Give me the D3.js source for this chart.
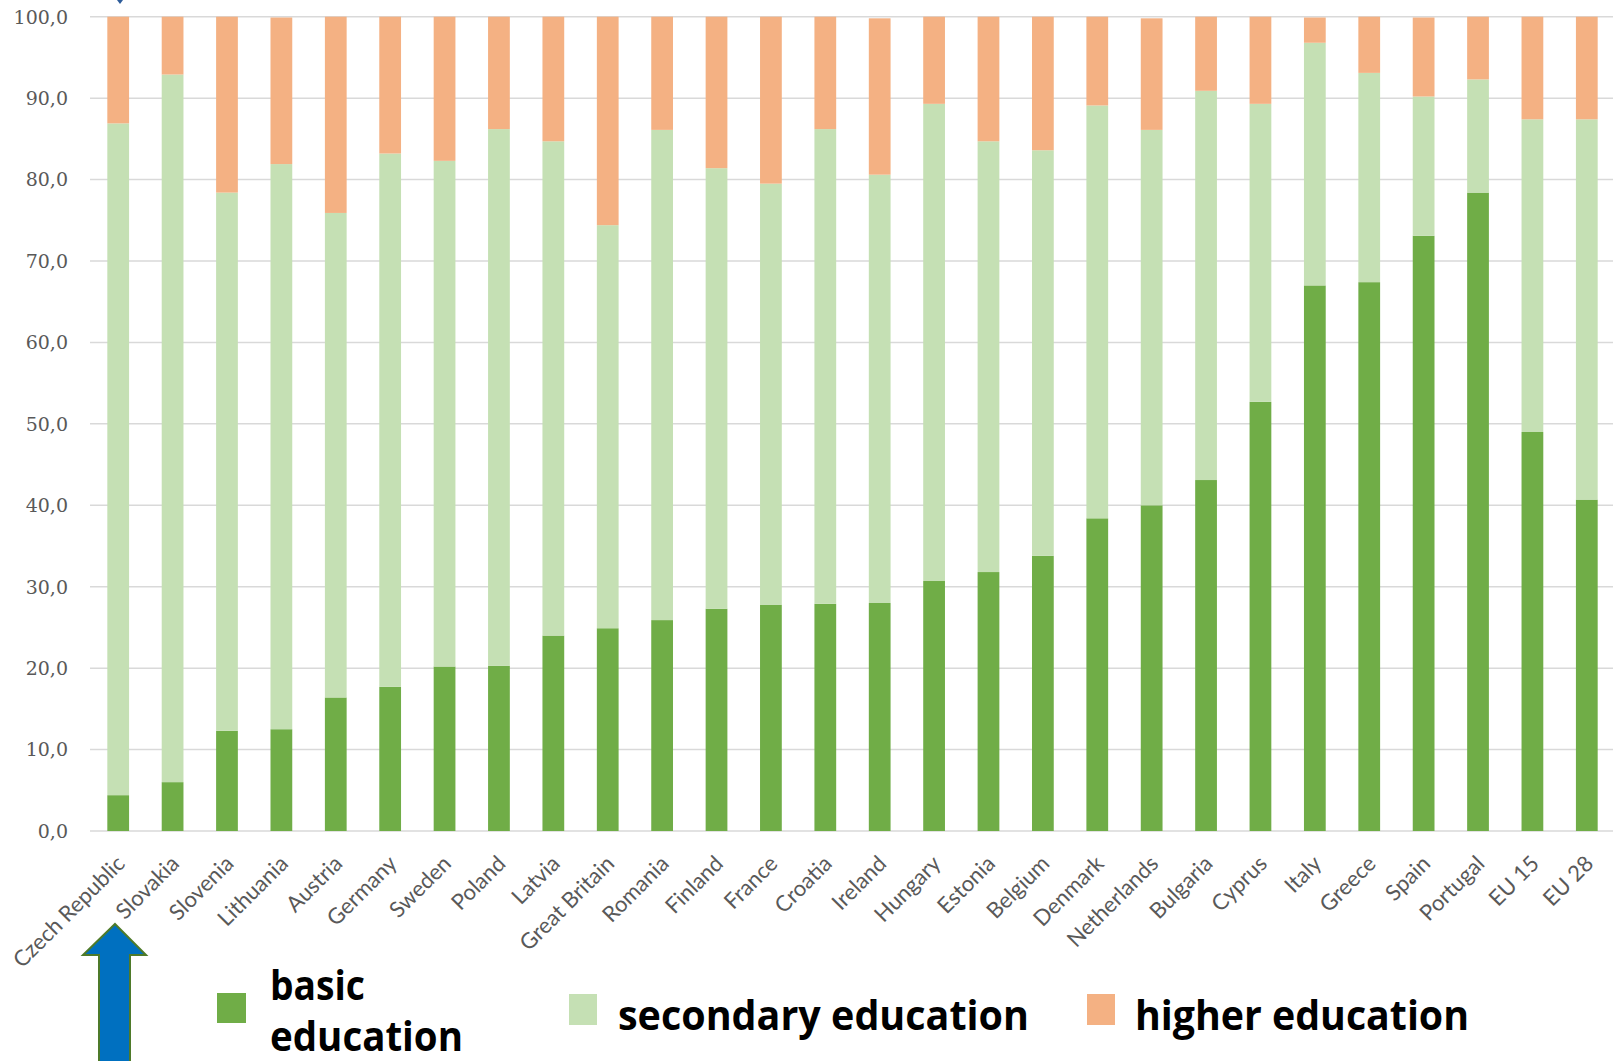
<!DOCTYPE html>
<html>
<head>
<meta charset="utf-8">
<script src="https://cdn.jsdelivr.net/npm/d3@7"></script>
<style>
  html, body { margin: 0; padding: 0; background: #fff; }
  svg { display: block; }
</style>
</head>
<body>
<svg id="chart" width="1613" height="1061"></svg>
<script>
// Share of the adult population by highest level of education (%)
const countries = ["Czech Republic","Slovakia","Slovenia","Lithuania","Austria","Germany","Sweden","Poland","Latvia","Great Britain","Romania","Finland","France","Croatia","Ireland","Hungary","Estonia","Belgium","Denmark","Netherlands","Bulgaria","Cyprus","Italy","Greece","Spain","Portugal","EU 15","EU 28"];
const basicEdu     = [4.4, 6.0, 12.3, 12.5, 16.4, 17.7, 20.2, 20.3, 24.0, 24.9, 25.9, 27.3, 27.8, 27.9, 28.0, 30.7, 31.8, 33.8, 38.4, 40.0, 43.1, 52.7, 67.0, 67.4, 73.1, 78.4, 49.0, 40.7];
const secondaryEdu = [82.5, 86.9, 66.1, 69.4, 59.5, 65.5, 62.1, 65.9, 60.7, 49.5, 60.2, 54.1, 51.7, 58.3, 52.6, 58.6, 52.9, 49.8, 50.7, 46.1, 47.8, 36.6, 29.8, 25.7, 17.1, 13.9, 38.4, 46.7];
const higherEdu    = [13.1, 7.1, 21.6, 18.0, 24.1, 16.8, 17.7, 13.8, 15.3, 25.6, 13.9, 18.6, 20.5, 13.8, 19.2, 10.7, 15.3, 16.4, 10.9, 13.7, 9.1, 10.7, 3.1, 6.9, 9.7, 7.7, 12.6, 12.6];
const seriesKeys   = ["basic", "secondary", "higher"];
const seriesLabels = ["basic education", "secondary education", "higher education"];
const yTicks       = [0, 10, 20, 30, 40, 50, 60, 70, 80, 90, 100];

const colors = { basic: "#70AD47", secondary: "#C5E0B4", higher: "#F4B183" };

const rows = countries.map((c, i) => ({
  country: c,
  basic: basicEdu[i],
  secondary: secondaryEdu[i],
  higher: higherEdu[i]
}));

const svg = d3.select("#chart");

const x = d3.scaleBand()
  .domain(countries)
  .range([91, 1614])
  .paddingInner(0.6)
  .paddingOuter(0.3);

const y = d3.scaleLinear().domain([0, 100]).range([831, 16.7]);

// horizontal gridlines
svg.append("g")
  .selectAll("line")
  .data(yTicks)
  .join("line")
  .attr("x1", 90).attr("x2", 1613)
  .attr("y1", d => y(d)).attr("y2", d => y(d))
  .attr("stroke", "#D9D9D9")
  .attr("stroke-width", 1.5);

// y tick labels, decimal comma
const fmt = d => d3.format(".1f")(d).replace(".", ",");
svg.append("g")
  .selectAll("text")
  .data(yTicks)
  .join("text")
  .attr("x", 68)
  .attr("y", d => y(d))
  .attr("dy", "0.36em")
  .attr("text-anchor", "end")
  .attr("font-family", "'DejaVu Serif', serif")
  .attr("font-size", 19)
  .attr("fill", "#595959")
  .text(fmt);

// stacked bars
const stack = d3.stack().keys(seriesKeys);
const layers = stack(rows);

svg.append("g")
  .selectAll("g")
  .data(layers)
  .join("g")
  .attr("fill", d => colors[d.key])
  .selectAll("rect")
  .data(d => d)
  .join("rect")
  .attr("x", d => x(d.data.country))
  .attr("width", x.bandwidth())
  .attr("y", d => y(d[1]))
  .attr("height", d => y(d[0]) - y(d[1]));

// category labels, rotated
svg.append("g")
  .selectAll("text")
  .data(countries)
  .join("text")
  .attr("transform", d => `translate(${x(d) + x.bandwidth() / 2 + 8},${865}) rotate(-45)`)
  .attr("text-anchor", "end")
  .attr("font-family", "Lato, 'Open Sans', sans-serif")
  .attr("font-size", 22)
  .attr("fill", "#595959")
  .text(d => d);

// big arrow pointing at the first category
const arrow = [[115, 924], [146, 955], [130, 955], [130, 1070], [99, 1070], [99, 955], [83, 955]];
svg.append("path")
  .attr("d", d3.line()(arrow) + "Z")
  .attr("fill", "#0070C0")
  .attr("stroke", "#4E7A2A")
  .attr("stroke-width", 2);

// small arrow tip at the top edge
svg.append("path")
  .attr("d", d3.line()([[117, 0], [123, 0], [120, 4]]) + "Z")
  .attr("fill", "#2E5C9A");

// legend
const legend = svg.append("g").attr("font-family", "'Open Sans', sans-serif").attr("font-weight", 700).attr("fill", "#000");

legend.append("rect").attr("x", 217).attr("y", 993).attr("width", 29).attr("height", 30).attr("fill", colors.basic);
legend.append("text").attr("x", 270).attr("y", 1000).attr("font-size", 42)
  .attr("textLength", 95).attr("lengthAdjust", "spacingAndGlyphs").text("basic");
legend.append("text").attr("x", 270).attr("y", 1051).attr("font-size", 42)
  .attr("textLength", 193).attr("lengthAdjust", "spacingAndGlyphs").text("education");

legend.append("rect").attr("x", 569).attr("y", 994).attr("width", 28).attr("height", 31).attr("fill", colors.secondary);
legend.append("text").attr("x", 618).attr("y", 1030).attr("font-size", 42)
  .attr("textLength", 411).attr("lengthAdjust", "spacingAndGlyphs").text(seriesLabels[1]);

legend.append("rect").attr("x", 1087).attr("y", 994).attr("width", 28).attr("height", 31).attr("fill", colors.higher);
legend.append("text").attr("x", 1135).attr("y", 1030).attr("font-size", 42)
  .attr("textLength", 334).attr("lengthAdjust", "spacingAndGlyphs").text(seriesLabels[2]);
</script>
</body>
</html>
